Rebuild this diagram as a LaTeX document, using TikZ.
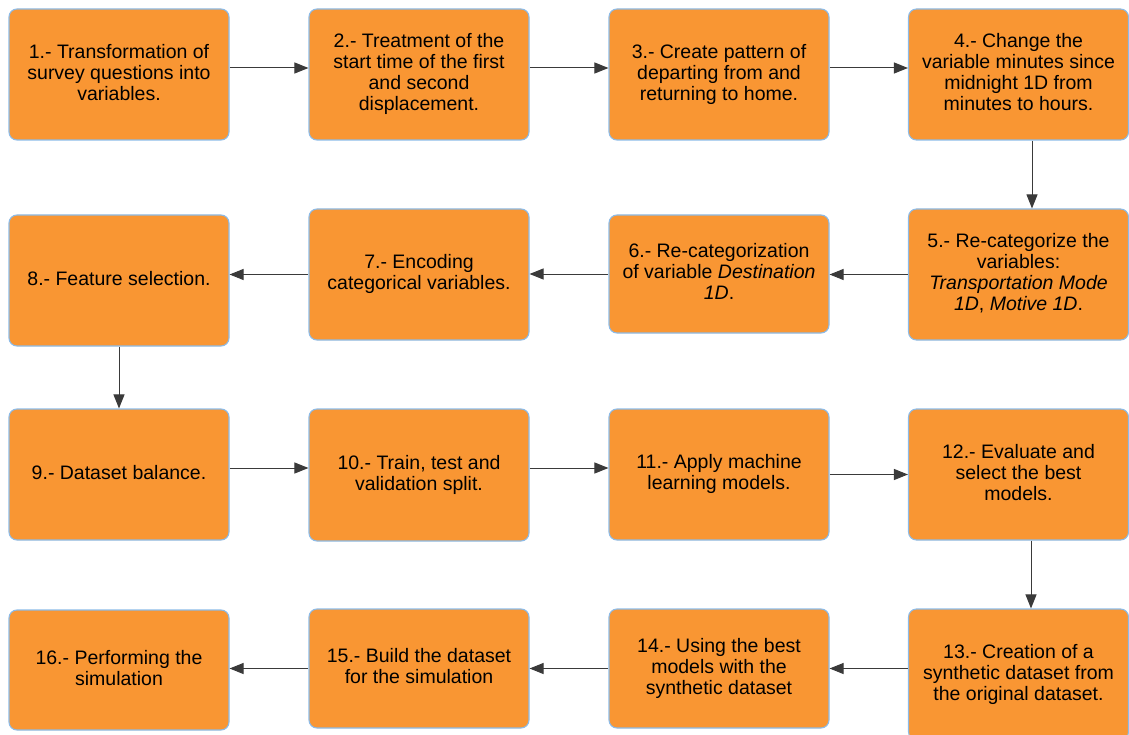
\documentclass[tikz,border=0pt]{standalone}
\usepackage{fontspec}
\setmainfont{Liberation Sans}
\usetikzlibrary{arrows.meta}
\definecolor{boxfill}{HTML}{F99633}
\definecolor{boxline}{HTML}{8CBBE8}
\definecolor{arrcol}{HTML}{3A3A3A}
\tikzset{
  stepbox/.style={draw=boxline, line width=1.1pt, fill=boxfill, rounded corners=8pt,
    minimum width=220pt, minimum height=131pt, inner sep=0pt, align=center,
    text depth=5pt,
    font=\fontsize{19.5}{21}\selectfont, text=black},
  arr/.style={draw=arrcol, line width=1pt, -{Triangle[length=14pt,width=11pt]}}
}
\begin{document}
\begin{tikzpicture}[x=1pt,y=-1pt]
\useasboundingbox (0,0) rectangle (1129,735);
% row 1
\node[stepbox] (b1) at (119,74.5) {1.- Transformation of\\survey questions into\\variables.};
\node[stepbox] (b2) at (419,74.5) {2.- Treatment of the\\start time of the first\\and second\\displacement.};
\node[stepbox] (b3) at (719,74.5) {3.- Create pattern of\\departing from and\\returning to home.};
\node[stepbox] (b4) at (1018.5,74.5) {4.- Change the\\variable minutes since\\midnight 1D from\\minutes to hours.};
% row 2
\node[stepbox] (b5) at (1018.5,274.5) {5.- Re-categorize the\\variables:\\\textit{Transportation Mode}\\\textit{1D}, \textit{Motive 1D}.};
\node[stepbox, minimum height=118pt] (b6) at (719,274) {6.- Re-categorization\\of variable \textit{Destination}\\\textit{1D}.};
\node[stepbox] (b7) at (419,274.5) {7.- Encoding\\categorical variables.};
\node[stepbox] (b8) at (119,280.5) {8.- Feature selection.};
% row 3
\node[stepbox] (b9) at (119,474.5) {9.- Dataset balance.};
\node[stepbox, minimum height=132pt] (b10) at (419,475) {10.- Train, test and\\validation split.};
\node[stepbox] (b11) at (719,474.5) {11.- Apply machine\\learning models.};
\node[stepbox] (b12) at (1018.5,474.5) {12.- Evaluate and\\select the best\\models.};
% row 4
\node[stepbox] (b13) at (1018.5,674.5) {13.- Creation of a\\synthetic dataset from\\the original dataset.};
\node[stepbox, minimum height=119pt] (b14) at (719,668.5) {14.- Using the best\\models with the\\synthetic dataset};
\node[stepbox, minimum height=119pt] (b15) at (419,668.5) {15.- Build the dataset\\for the simulation};
\node[stepbox, minimum height=120pt] (b16) at (119,670) {16.- Performing the\\simulation};
% connectors
\draw[arr] ([yshift=6.5pt]b1.east) -- ([yshift=6.5pt]b2.west);
\draw[arr] ([yshift=6.5pt]b2.east) -- ([yshift=6.5pt]b3.west);
\draw[arr] ([yshift=6.5pt]b3.east) -- ([yshift=6.5pt]b4.west);
\draw[arr] ([xshift=13.5pt]b4.south) -- ([xshift=13.5pt]b5.north);
\draw[arr] (b5.west) -- (b5.west -| b6.east);
\draw[arr] (b6.west) -- (b6.west -| b7.east);
\draw[arr] (b7.west) -- (b7.west -| b8.east);
\draw[arr] (b8.south) -- (b9.north);
\draw[arr] ([yshift=6.5pt]b9.east) -- ([yshift=6.5pt]b10.west |- b9.east);
\draw[arr] ([yshift=7pt]b10.east) -- ([yshift=6.5pt]b11.west);
\draw[arr] (b11.east) -- (b12.west);
\draw[arr] ([xshift=12.5pt]b12.south) -- ([xshift=12.5pt]b13.north);
\draw[arr] ([yshift=6pt]b13.west) -- (b14.east);
\draw[arr] (b14.west) -- (b15.east);
\draw[arr] (b15.west) -- (b15.west -| b16.east);
\end{tikzpicture}
\end{document}
